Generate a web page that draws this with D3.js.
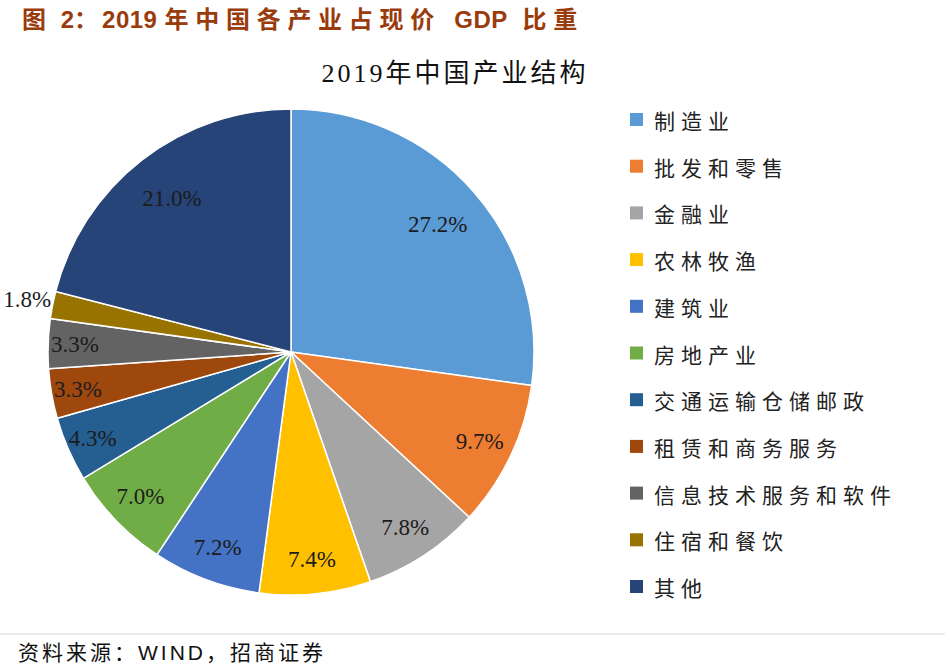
<!DOCTYPE html>
<html>
<head>
<meta charset="utf-8">
<script src="https://cdn.jsdelivr.net/npm/d3@7"></script>
<style>
  body { margin: 0; background: #fff; }
  svg { display: block; }
</style>
</head>
<body>
<div class="canvas"></div>
<script>
// data
const categories = ['制造业', '批发和零售', '金融业', '农林牧渔', '建筑业', '房地产业',
  '交通运输仓储邮政', '租赁和商务服务', '信息技术服务和软件', '住宿和餐饮', '其他'];
const shares = [27.2, 9.7, 7.8, 7.4, 7.2, 7.0, 4.3, 3.3, 3.3, 1.8, 21.0];
const colors = ['#5b9bd5', '#ed7d31', '#a5a5a5', '#ffc000', '#4472c4', '#70ad47',
  '#255e91', '#9e480e', '#636363', '#997300', '#264478'];

const width = 945, height = 666;
const cx = 291, cy = 352, radius = 243;

const svg = d3.select('.canvas')
  .append('svg')
    .attr('width', width)
    .attr('height', height);

// figure caption: latin runs tight, chinese runs spaced out
const caption = svg.append('text')
  .attr('x', 22)
  .attr('y', 28)
  .style('white-space', 'pre')
  .attr('fill', '#9a3b0c')
  .attr('font-family', '"Liberation Sans", "Noto Sans CJK SC", sans-serif')
  .attr('font-weight', 'bold')
  .attr('font-size', 24);

[['图 ', 4], ['2', 0], ['：', 4], ['2019 ', 0.5], ['年中国各产业占现价 ', 6.7], ['GDP', 0.5], [' ', 8], ['比重', 6.7]]
  .forEach(([t, ls]) => caption.append('tspan').attr('letter-spacing', ls).text(t));

// chart title
svg.append('text')
  .attr('x', 455)
  .attr('y', 82)
  .attr('text-anchor', 'middle')
  .attr('fill', '#111')
  .attr('font-family', '"Liberation Serif", "Noto Sans CJK SC", serif')
  .attr('font-size', 26)
  .attr('letter-spacing', 3)
  .text('2019年中国产业结构');

const data = categories.map((name, i) => ({name, value: shares[i], color: colors[i]}));

const pie = d3.pie()
  .sort(null)
  .value(d => d.value);

const arc = d3.arc()
  .innerRadius(0)
  .outerRadius(radius);

// label distance from centre, pushed out for thin slices (like excel's best fit)
const labelR = v => v < 2 ? radius + 26 : v < 5 ? radius * 0.89 : v > 20 ? radius * 0.8 : radius * 0.86;

const graph = svg.append('g')
  .attr('transform', `translate(${cx}, ${cy})`);

const arcs = pie(data);

graph.selectAll('path')
  .data(arcs)
  .enter()
  .append('path')
    .attr('d', arc)
    .attr('fill', d => d.data.color)
    .attr('stroke', '#fff')
    .attr('stroke-width', 1.5);

graph.selectAll('text.lbl')
  .data(arcs)
  .enter()
  .append('text')
    .attr('class', 'lbl')
    .attr('transform', d => {
      const r = labelR(d.data.value);
      return `translate(${d3.arc().innerRadius(r).outerRadius(r).centroid(d)})`;
    })
    .attr('text-anchor', 'middle')
    .attr('dominant-baseline', 'central')
    .attr('fill', '#1c1c1c')
    .attr('font-family', '"Liberation Serif", serif')
    .attr('font-size', 23)
    .text(d => d.data.value.toFixed(1) + '%');

// legend
const legend = svg.append('g')
  .attr('transform', 'translate(630, 120)');

const item = legend.selectAll('g')
  .data(data)
  .enter()
  .append('g')
    .attr('transform', (d, i) => `translate(0, ${i * 46.7})`);

item.append('rect')
  .attr('x', 0)
  .attr('y', -7)
  .attr('width', 13)
  .attr('height', 13)
  .attr('fill', d => d.color);

item.append('text')
  .attr('x', 24)
  .attr('y', 0)
  .attr('dominant-baseline', 'central')
  .attr('fill', '#222')
  .attr('font-family', '"Noto Sans CJK SC", sans-serif')
  .attr('font-size', 21)
  .attr('letter-spacing', 6)
  .text(d => d.name);

// source footer
svg.append('line')
  .attr('x1', 0)
  .attr('x2', width)
  .attr('y1', 634)
  .attr('y2', 634)
  .attr('stroke', '#d9d9d9')
  .attr('stroke-width', 1);

svg.append('text')
  .attr('x', 18)
  .attr('y', 660)
  .attr('fill', '#111')
  .attr('font-family', '"Liberation Sans", "Noto Sans CJK SC", sans-serif')
  .attr('font-size', 21)
  .attr('letter-spacing', 3)
  .text('资料来源：WIND，招商证券');
</script>
</body>
</html>
